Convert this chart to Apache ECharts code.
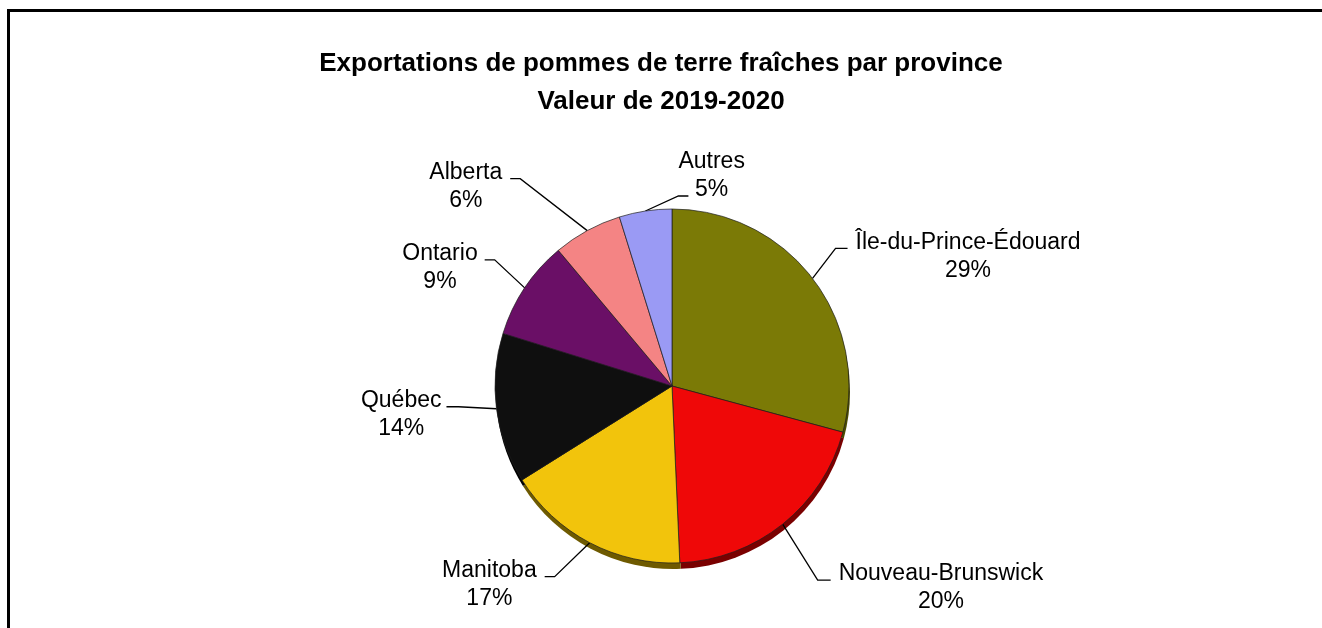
<!DOCTYPE html>
<html>
<head>
<meta charset="utf-8">
<script src="https://cdn.jsdelivr.net/npm/echarts@6/dist/echarts.min.js"></script>
<style>
  html, body { margin: 0; padding: 0; background: #fff; }
  #chart { width: 1322px; height: 628px; }
</style>
</head>
<body>
<div id="chart"></div>
<script>
// données du graphique
const provinces = ['Île-du-Prince-Édouard', 'Nouveau-Brunswick', 'Manitoba', 'Québec', 'Ontario', 'Alberta', 'Autres'];
const valeurs = [29.2, 20.1, 16.8, 13.7, 9.1, 6.3, 4.8];
const couleurs = ['#7b7a06', '#ef0808', '#f2c40c', '#0f0f0f', '#6a0f66', '#f48484', '#9a9af4'];
const couleursOmbre = ['#4a4a00', '#7a0000', '#6e5a00', '#000000', '#3a003a', '#8a4a4a', '#5a5a90'];

// tracé des lignes de repère (décalage du coude par rapport au bord, segment horizontal, écart du texte)
const reperes = [
  { dx: 23, dy: -30, h: 12, gap: 8, align: 'left' },
  { dx: 35, dy: 56, h: 13, gap: 8, align: 'left' },
  { dx: -35, dy: 34, h: -10, gap: -8, align: 'right' },
  { dx: -38, dy: -2, h: -12, gap: -5, align: 'right' },
  { dx: -30, dy: -28, h: -10, gap: -7, align: 'right' },
  { dx: -67, dy: -52, h: -10, gap: -8, align: 'right' },
  { dx: 33, dy: -15, h: 10, gap: -10, align: 'left' }
];

const chart = echarts.init(document.getElementById('chart'));

let dataPie = provinces.map((nom, i) => ({
  name: nom,
  value: valeurs[i],
  itemStyle: { color: couleurs[i] },
  // l'étiquette "Autres" est accrochée à la ligne du pourcentage
  label: nom === 'Autres' ? { padding: [0, 0, 28, 0] } : {}
}));

let dataOmbre = provinces.map((nom, i) => ({
  name: nom,
  value: valeurs[i],
  itemStyle: { color: couleursOmbre[i] }
}));

let option = {
  backgroundColor: '#ffffff',
  animation: false,
  title: {
    text: 'Exportations de pommes de terre fraîches par province\nValeur de 2019-2020',
    left: 'center',
    top: 40,
    textStyle: {
      fontFamily: '"Liberation Sans Narrow", "Arial Narrow", "Liberation Sans", sans-serif',
      fontWeight: 'bold',
      fontSize: 26,
      lineHeight: 38,
      color: '#000'
    }
  },
  graphic: [{
    type: 'rect',
    silent: true,
    shape: { x: 8.5, y: 10.5, width: 1400, height: 700 },
    style: { fill: 'none', stroke: '#000', lineWidth: 3 }
  }],
  series: [
    {
      // épaisseur 3D sous le camembert
      name: 'ombre',
      type: 'pie',
      silent: true,
      center: [673, 392],
      radius: 177,
      startAngle: 90,
      label: { show: false },
      labelLine: { show: false },
      itemStyle: { borderWidth: 0 },
      data: dataOmbre,
      z: 1
    },
    {
      name: 'Exportations',
      type: 'pie',
      center: [672, 386],
      radius: 177,
      startAngle: 90,
      percentPrecision: 0,
      z: 2,
      itemStyle: {
        borderColor: 'rgba(30,30,30,0.7)',
        borderWidth: 1
      },
      label: {
        show: true,
        position: 'outside',
        formatter: '{n|{b}}\n{n|{d}%}',
        padding: [28, 0, 0, 0],
        rich: {
          n: {
            fontFamily: '"Liberation Sans", Arial, sans-serif',
            fontSize: 23,
            lineHeight: 28,
            color: '#000',
            align: 'center'
          }
        }
      },
      labelLine: {
        show: true,
        length: 30,
        length2: 12,
        lineStyle: { color: '#000', width: 1.3 }
      },
      labelLayout: function (params) {
        const r = reperes[params.dataIndex];
        const p0 = params.labelLinePoints[0];
        const p1 = [p0[0] + r.dx, p0[1] + r.dy];
        const p2 = [p1[0] + r.h, p1[1]];
        return {
          x: p2[0] + r.gap,
          y: p2[1] - 6,
          align: r.align,
          verticalAlign: 'middle',
          labelLinePoints: [p0, p1, p2]
        };
      },
      data: dataPie
    }
  ]
};

chart.setOption(option);
</script>
</body>
</html>
